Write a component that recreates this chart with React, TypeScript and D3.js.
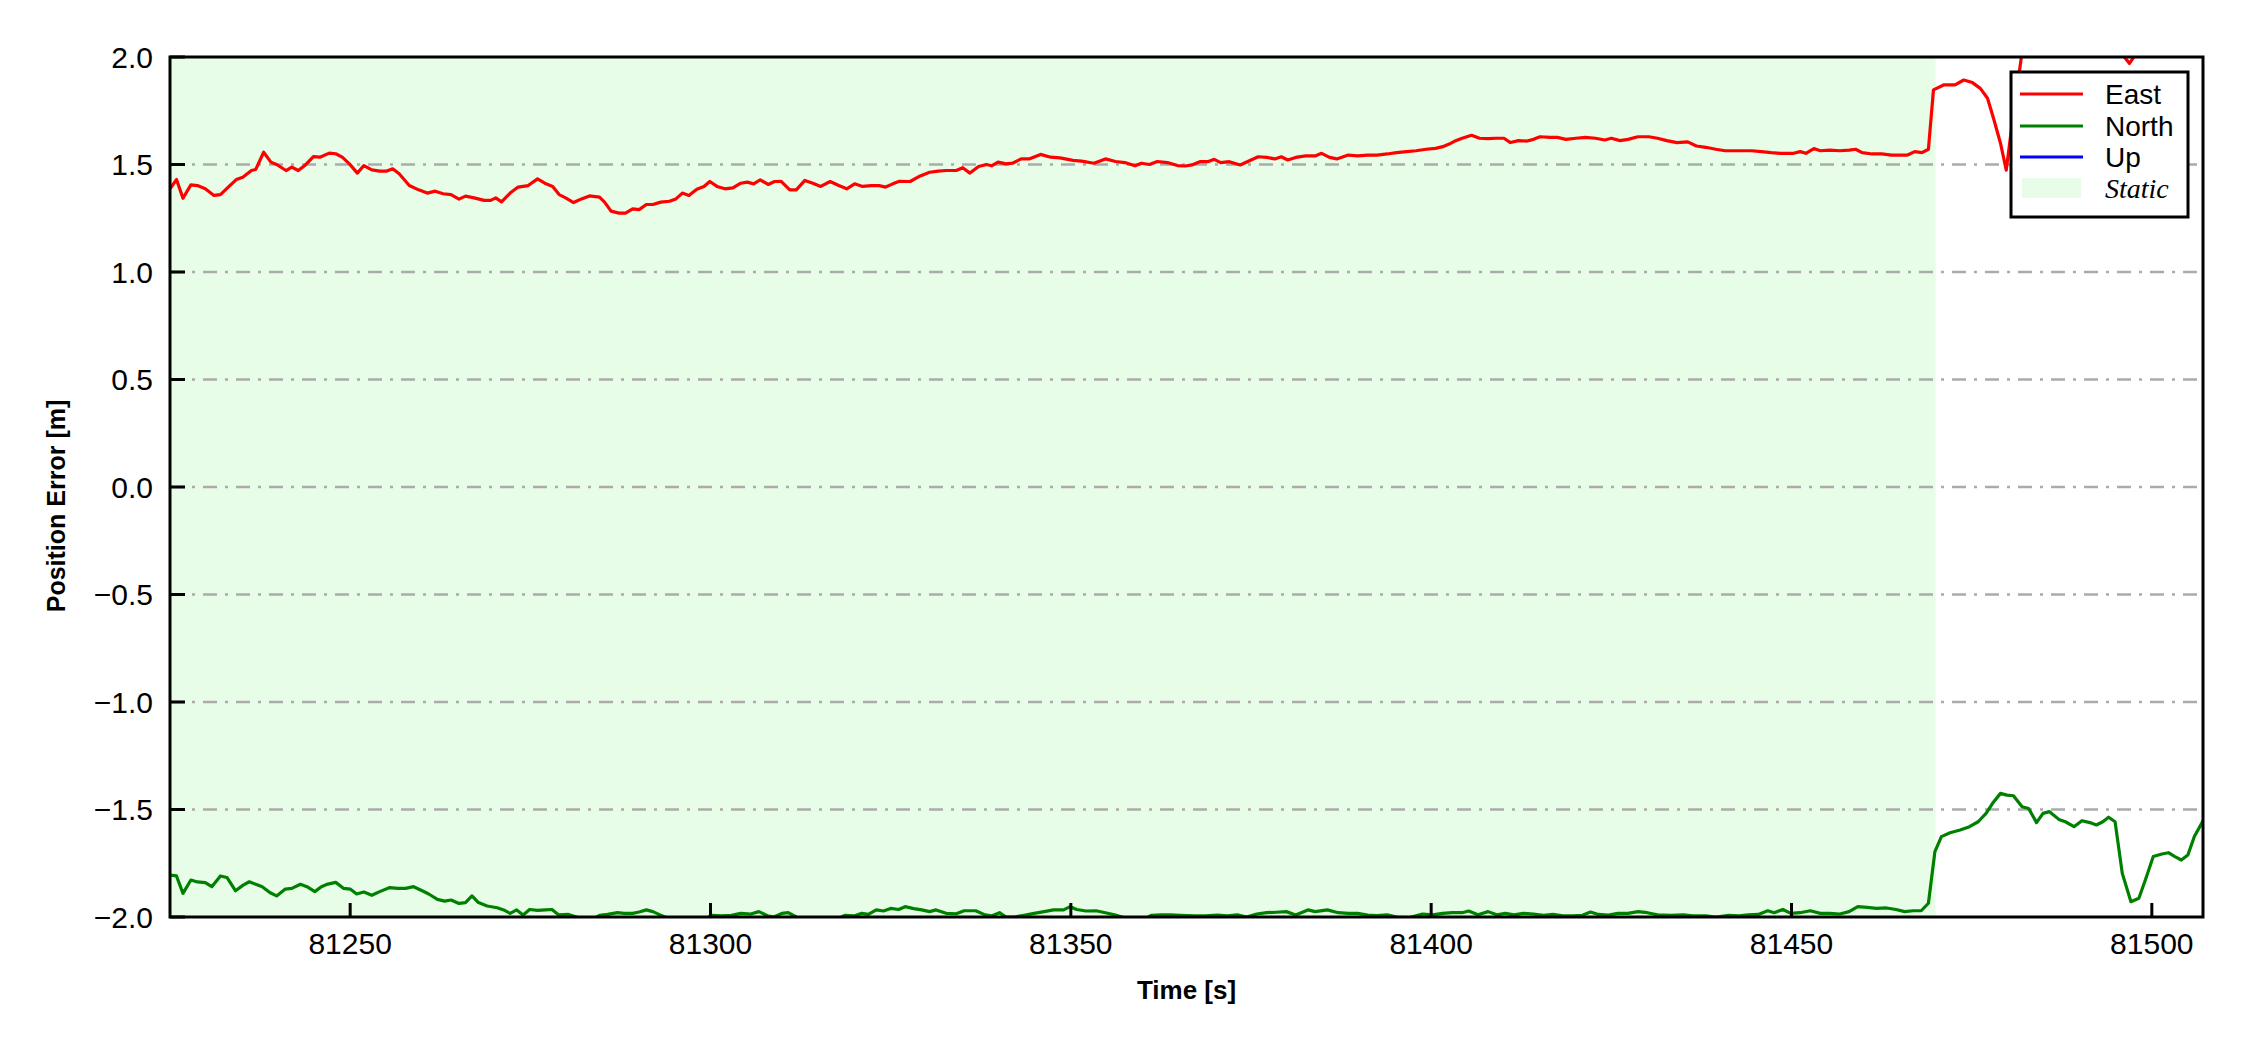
import React from 'react';
import * as d3 from 'd3';

// ---------- data ----------
const xDomain: [number, number] = [81225, 81507.1];
const yDomain: [number, number] = [-2, 2];
const xTicks = [81250, 81300, 81350, 81400, 81450, 81500];
const yTicks = [-2, -1.5, -1, -0.5, 0, 0.5, 1, 1.5, 2];
const staticInterval: [number, number] = [81225, 81470];
const legendLabels = ['East', 'North', 'Up', 'Static'];

// [time s, error m]
const eastData: [number, number][] = [
  [81225, 1.387], [81225.9, 1.43], [81226.8, 1.343], [81227.9, 1.405], [81228.8, 1.402], [81229.9, 1.387],
  [81231.1, 1.356], [81232, 1.36], [81233.3, 1.402], [81234.2, 1.43], [81235.1, 1.441], [81236.3, 1.472],
  [81236.9, 1.477], [81238, 1.557], [81239, 1.511], [81239.8, 1.5], [81241.1, 1.472], [81241.9, 1.488],
  [81242.8, 1.472], [81243.7, 1.495], [81244.9, 1.537], [81245.8, 1.534], [81247.1, 1.553], [81248, 1.55],
  [81248.9, 1.534], [81249.9, 1.503], [81251, 1.46], [81251.9, 1.495], [81253, 1.475], [81254.1, 1.469],
  [81255, 1.469], [81255.9, 1.48], [81256.8, 1.457], [81258.2, 1.402], [81259.5, 1.382], [81260.7, 1.367],
  [81261.8, 1.376], [81262.9, 1.364], [81264, 1.36], [81265.1, 1.339], [81266, 1.353], [81267.2, 1.345],
  [81268.6, 1.333], [81269.5, 1.333], [81270.2, 1.345], [81271, 1.326], [81272.2, 1.367], [81273.3, 1.395],
  [81274.7, 1.402], [81276, 1.433], [81277, 1.413], [81278.1, 1.398], [81279, 1.36], [81279.9, 1.345],
  [81281, 1.323], [81282.1, 1.34], [81283.2, 1.354], [81284.6, 1.348], [81285.3, 1.325], [81286.2, 1.283],
  [81287.3, 1.274], [81288.2, 1.274], [81289.2, 1.294], [81290.1, 1.29], [81291.1, 1.314], [81292, 1.314],
  [81293.1, 1.325], [81294.3, 1.329], [81295.2, 1.34], [81296.1, 1.367], [81297, 1.356], [81298.1, 1.385],
  [81299.1, 1.398], [81299.9, 1.421], [81300.9, 1.398], [81302, 1.387], [81303.1, 1.391], [81304.2, 1.413],
  [81305.1, 1.418], [81306, 1.41], [81306.9, 1.429], [81308, 1.407], [81308.9, 1.421], [81309.8, 1.422],
  [81311, 1.382], [81311.9, 1.382], [81313.1, 1.426], [81314.2, 1.413], [81315.3, 1.398], [81316.6, 1.421],
  [81317.8, 1.402], [81318.9, 1.387], [81320, 1.41], [81321.1, 1.398], [81322.3, 1.402], [81323.4, 1.402],
  [81324.3, 1.395], [81325.3, 1.41], [81326.2, 1.422], [81327.7, 1.421], [81329.1, 1.447], [81330.4, 1.464],
  [81331.6, 1.469], [81332.7, 1.472], [81334.1, 1.472], [81335, 1.485], [81336, 1.46], [81337.2, 1.491],
  [81338.3, 1.5], [81339, 1.494], [81339.9, 1.511], [81341, 1.503], [81341.9, 1.506], [81343.1, 1.526],
  [81344.2, 1.526], [81345.8, 1.547], [81347.2, 1.534], [81348.5, 1.531], [81350.3, 1.519], [81351.5, 1.516],
  [81353.2, 1.506], [81354.8, 1.526], [81356.2, 1.514], [81357.5, 1.509], [81358.9, 1.494], [81359.8, 1.506],
  [81360.9, 1.5], [81362, 1.514], [81363.4, 1.509], [81364.8, 1.495], [81365.9, 1.493], [81366.8, 1.498],
  [81367.9, 1.513], [81369, 1.513], [81369.9, 1.524], [81370.8, 1.509], [81372, 1.513], [81373.5, 1.498],
  [81374.7, 1.516], [81376, 1.536], [81377.2, 1.533], [81378.3, 1.526], [81379.2, 1.536], [81380.1, 1.521],
  [81381.2, 1.533], [81382.6, 1.54], [81383.9, 1.54], [81384.8, 1.552], [81385.9, 1.533], [81386.9, 1.526],
  [81388.5, 1.544], [81389.8, 1.54], [81391.2, 1.544], [81392.5, 1.544], [81393.9, 1.549], [81395.2, 1.555],
  [81396.6, 1.56], [81397.9, 1.564], [81399.3, 1.571], [81400.6, 1.575], [81401.6, 1.583], [81402.5, 1.595],
  [81403.4, 1.611], [81404.3, 1.622], [81405.6, 1.636], [81406.7, 1.622], [81407.9, 1.62], [81409, 1.622],
  [81410.1, 1.622], [81411, 1.602], [81412.1, 1.611], [81413.3, 1.609], [81414.2, 1.617], [81415.1, 1.629],
  [81416.5, 1.626], [81417.5, 1.626], [81418.7, 1.617], [81420.1, 1.622], [81421.4, 1.626], [81422.8, 1.622],
  [81424.1, 1.614], [81425, 1.622], [81426.2, 1.611], [81427.3, 1.617], [81428.7, 1.629], [81430.2, 1.629],
  [81431.4, 1.622], [81432.7, 1.611], [81434.1, 1.602], [81435.6, 1.605], [81436.8, 1.586], [81438.1, 1.58],
  [81439.5, 1.571], [81440.8, 1.564], [81442.7, 1.564], [81444.5, 1.564], [81445.8, 1.56], [81447.2, 1.555],
  [81448.5, 1.552], [81450.3, 1.552], [81451.2, 1.56], [81452, 1.552], [81453.1, 1.574], [81454, 1.564],
  [81455.3, 1.567], [81456.7, 1.564], [81458, 1.567], [81458.9, 1.571], [81459.8, 1.555], [81461.2, 1.549],
  [81462.5, 1.549], [81463.9, 1.544], [81465.2, 1.544], [81466.1, 1.544], [81467.1, 1.56], [81468.1, 1.555],
  [81469, 1.571], [81469.7, 1.847], [81471.1, 1.87], [81472.7, 1.87], [81473.9, 1.893], [81475.1, 1.881],
  [81476.2, 1.854], [81477.2, 1.808], [81478.1, 1.707], [81479, 1.599], [81479.8, 1.474], [81480.8, 1.738],
  [81481.9, 2.0], [81483, 2.1], [81486, 2.15], [81490, 2.12], [81494, 2.07], [81496.2, 2.0], [81496.9, 1.97],
  [81497.7, 2.01], [81500, 2.12], [81504, 2.18], [81507.5, 2.2],
];

const northData: [number, number][] = [
  [81225, -1.805], [81225.9, -1.809], [81226.8, -1.89], [81227.9, -1.828], [81228.8, -1.837], [81229.9, -1.84],
  [81230.8, -1.859], [81232, -1.809], [81232.9, -1.816], [81234.1, -1.878], [81235.1, -1.853], [81236, -1.836],
  [81236.9, -1.848], [81237.8, -1.859], [81238.9, -1.887], [81239.8, -1.902], [81241, -1.87], [81241.9, -1.867],
  [81243.1, -1.848], [81244, -1.859], [81245.1, -1.882], [81246, -1.859], [81246.9, -1.847], [81248, -1.839],
  [81249.1, -1.867], [81250, -1.87], [81250.9, -1.893], [81251.9, -1.884], [81253, -1.899], [81254.1, -1.882],
  [81255.5, -1.863], [81256.6, -1.867], [81257.7, -1.867], [81258.8, -1.859], [81260, -1.878], [81260.9, -1.893],
  [81262.1, -1.918], [81263.1, -1.926], [81264, -1.921], [81265.1, -1.937], [81266, -1.933], [81266.9, -1.902],
  [81267.8, -1.933], [81269, -1.949], [81270.4, -1.957], [81271.3, -1.967], [81272.2, -1.983], [81273.1, -1.967],
  [81274, -1.991], [81274.9, -1.965], [81276, -1.969], [81277.1, -1.967], [81278, -1.965], [81278.9, -1.99],
  [81280.3, -1.988], [81281.4, -2.0], [81282.5, -2.02], [81283.5, -2.015], [81284.6, -1.992], [81285.7, -1.988],
  [81287.1, -1.98], [81288, -1.983], [81289.2, -1.983], [81290.1, -1.977], [81291.1, -1.967], [81292, -1.975],
  [81293, -1.99], [81294, -2.005], [81295.5, -2.02], [81297.5, -2.03], [81299.2, -2.01], [81300.2, -1.992],
  [81301.5, -1.995], [81302.9, -1.992], [81304.2, -1.983], [81305.6, -1.986], [81306.7, -1.975], [81307.9, -1.994],
  [81308.8, -2.0], [81309.9, -1.983], [81310.8, -1.98], [81311.9, -2.0], [81313.5, -2.02], [81315.5, -2.03],
  [81317.5, -2.01], [81318.7, -1.992], [81319.9, -1.995], [81321, -1.983], [81321.9, -1.988], [81323, -1.967],
  [81324, -1.972], [81325, -1.96], [81326.1, -1.965], [81327, -1.952], [81328.2, -1.961], [81329.3, -1.967],
  [81330.4, -1.975], [81331.3, -1.967], [81332.7, -1.983], [81334.1, -1.985], [81335.2, -1.971], [81336.8, -1.971],
  [81338.1, -1.99], [81339, -1.995], [81340.1, -1.98], [81341, -2.0], [81342.2, -2.0], [81343.5, -1.992],
  [81344.9, -1.983], [81346.3, -1.975], [81347.6, -1.967], [81349, -1.967], [81349.9, -1.952], [81350.8, -1.965],
  [81352.1, -1.972], [81353.5, -1.971], [81354.8, -1.98], [81356.2, -1.991], [81357.5, -2.005], [81358.8, -2.02],
  [81360.2, -2.01], [81361.2, -1.992], [81362.5, -1.99], [81363.9, -1.99], [81365.2, -1.992], [81367.2, -1.995],
  [81368.6, -1.995], [81370.4, -1.991], [81371.7, -1.995], [81373.1, -1.99], [81374.4, -2.0], [81375.8, -1.986],
  [81377.2, -1.98], [81378.5, -1.978], [81379.9, -1.975], [81381.2, -1.991], [81382.9, -1.967], [81383.9, -1.975],
  [81385.6, -1.967], [81387.1, -1.98], [81388.5, -1.983], [81389.8, -1.983], [81391.2, -1.991], [81392.5, -1.994],
  [81393.9, -1.99], [81395.2, -2.0], [81397, -2.003], [81398.8, -1.986], [81400.2, -1.99], [81401.6, -1.983],
  [81402.9, -1.98], [81404.3, -1.98], [81405.2, -1.972], [81406.5, -1.99], [81407.9, -1.975], [81409.1, -1.99],
  [81410.3, -1.983], [81411.5, -1.99], [81412.8, -1.983], [81414.2, -1.986], [81415.6, -1.992], [81416.9, -1.988],
  [81418.3, -1.995], [81419.6, -1.995], [81421, -1.992], [81422.1, -1.977], [81423.2, -1.988], [81424.6, -1.991],
  [81425.9, -1.983], [81427.3, -1.983], [81428.7, -1.975], [81430, -1.98], [81431.4, -1.99], [81433.2, -1.992],
  [81435, -1.99], [81436.3, -1.995], [81438.1, -1.995], [81439.5, -2.0], [81441.3, -1.992], [81442.7, -1.995],
  [81444, -1.99], [81445.4, -1.988], [81446.7, -1.971], [81447.6, -1.98], [81448.8, -1.965], [81449.9, -1.983],
  [81451.2, -1.98], [81452.6, -1.971], [81454, -1.983], [81455.3, -1.983], [81456.7, -1.986], [81458, -1.975],
  [81459.2, -1.952], [81460.5, -1.955], [81461.8, -1.96], [81463.2, -1.958], [81464.5, -1.965], [81465.7, -1.975],
  [81466.9, -1.971], [81468, -1.971], [81469, -1.936], [81469.9, -1.696], [81470.8, -1.626], [81472, -1.608],
  [81473.4, -1.595], [81474.7, -1.58], [81475.9, -1.557], [81477, -1.518], [81477.9, -1.471], [81479, -1.425],
  [81479.9, -1.433], [81480.8, -1.436], [81482, -1.487], [81482.9, -1.495], [81484, -1.561], [81484.9, -1.518],
  [81485.8, -1.51], [81487.1, -1.546], [81488, -1.557], [81489.2, -1.58], [81490.3, -1.552], [81491.4, -1.561],
  [81492.3, -1.572], [81493.2, -1.557], [81494, -1.536], [81494.9, -1.557], [81495.9, -1.797], [81497.1, -1.929],
  [81498.2, -1.913], [81499.1, -1.828], [81500.2, -1.719], [81501.4, -1.707], [81502.3, -1.701], [81503.2, -1.719],
  [81504.1, -1.735], [81505, -1.712], [81505.9, -1.626], [81507.3, -1.541],
];

// Up error lies outside the ±2 m window in the reference; nothing of it is visible.
const upData: [number, number][] = [];

// ---------- layout / style ----------
const W = 2250;
const H = 1050;
const plot = { left: 170, top: 57, right: 2203, bottom: 917 };
const colors = { East: '#ff0000', North: '#008000', Up: '#0000ff', Static: '#e8fde8' };
const font = 'Arial, "Liberation Sans", Helvetica, sans-serif';

export default function App() {
  const x = d3.scaleLinear().domain(xDomain).range([plot.left, plot.right]);
  const y = d3.scaleLinear().domain(yDomain).range([plot.bottom, plot.top]);
  const line = d3
    .line<[number, number]>()
    .x((d) => x(d[0]))
    .y((d) => y(d[1]));
  const fmtY = d3.format('.1f');

  const series = [
    { name: 'East', data: eastData },
    { name: 'North', data: northData },
    { name: 'Up', data: upData },
  ];

  const legend = { x: 2011, y: 72, w: 177, h: 145 };
  const rowY = [94, 126, 157, 188];

  return (
    <svg
      width={W}
      height={H}
      viewBox={`0 0 ${W} ${H}`}
      style={{ position: 'absolute', left: 0, top: 0, background: '#fff' }}
      fontFamily={font}
    >
      <defs>
        <clipPath id="plotclip">
          <rect x={plot.left} y={plot.top} width={plot.right - plot.left} height={plot.bottom - plot.top} />
        </clipPath>
      </defs>
      <rect x={0} y={0} width={W} height={H} fill="#fff" />

      {/* static shading */}
      <rect
        x={x(staticInterval[0])}
        y={plot.top}
        width={x(staticInterval[1]) - x(staticInterval[0])}
        height={plot.bottom - plot.top}
        fill={colors.Static}
      />

      {/* grid */}
      {yTicks
        .filter((t) => t > yDomain[0] && t < yDomain[1])
        .map((t) => (
          <line
            key={'g' + t}
            x1={plot.left}
            x2={plot.right}
            y1={y(t)}
            y2={y(t)}
            stroke="#ababab"
            strokeWidth={2.6}
            strokeDasharray="14 8 3 8"
          />
        ))}

      {/* series */}
      <g clipPath="url(#plotclip)">
        {series.map((s) =>
          s.data.length ? (
            <path
              key={s.name}
              d={line(s.data) || ''}
              fill="none"
              stroke={(colors as any)[s.name]}
              strokeWidth={3.2}
              strokeLinejoin="round"
              strokeLinecap="round"
            />
          ) : null
        )}
      </g>

      {/* ticks */}
      {yTicks.map((t) => (
        <g key={'yt' + t}>
          <line x1={plot.left} x2={plot.left + 15} y1={y(t)} y2={y(t)} stroke="#000" strokeWidth={3} />
          <text x={153} y={y(t)} dy="0.35em" textAnchor="end" fontSize={30} fill="#000">
            {fmtY(t)}
          </text>
        </g>
      ))}
      {xTicks.map((t) => (
        <g key={'xt' + t}>
          <line x1={x(t)} x2={x(t)} y1={plot.bottom} y2={plot.bottom - 14} stroke="#000" strokeWidth={3} />
          <text x={x(t)} y={954} textAnchor="middle" fontSize={30} fill="#000">
            {t}
          </text>
        </g>
      ))}

      {/* frame */}
      <rect
        x={plot.left}
        y={plot.top}
        width={plot.right - plot.left}
        height={plot.bottom - plot.top}
        fill="none"
        stroke="#000"
        strokeWidth={3}
      />

      {/* axis labels */}
      <text x={(plot.left + plot.right) / 2} y={999} textAnchor="middle" fontSize={26} fontWeight="bold" fill="#000">
        Time [s]
      </text>
      <text
        transform={`translate(65, 506) rotate(-90)`}
        textAnchor="middle"
        fontSize={25}
        fontWeight="bold"
        fill="#000"
      >
        Position Error [m]
      </text>

      {/* legend */}
      <rect x={legend.x} y={legend.y} width={legend.w} height={legend.h} fill="#fff" stroke="#000" strokeWidth={3} />
      {legendLabels.map((name, i) =>
        name === 'Static' ? (
          <g key={name}>
            <rect x={2022} y={rowY[i] - 10} width={59} height={20} fill={colors.Static} />
            <text
              x={2105}
              y={rowY[i]}
              dy="0.35em"
              fontSize={28}
              fontStyle="italic"
              fontFamily='"Liberation Serif", "Times New Roman", serif'
              fill="#000"
            >
              {name}
            </text>
          </g>
        ) : (
          <g key={name}>
            <line x1={2020} x2={2083} y1={rowY[i]} y2={rowY[i]} stroke={(colors as any)[name]} strokeWidth={3.2} />
            <text x={2105} y={rowY[i]} dy="0.35em" fontSize={28} fill="#000">
              {name}
            </text>
          </g>
        )
      )}
    </svg>
  );
}
